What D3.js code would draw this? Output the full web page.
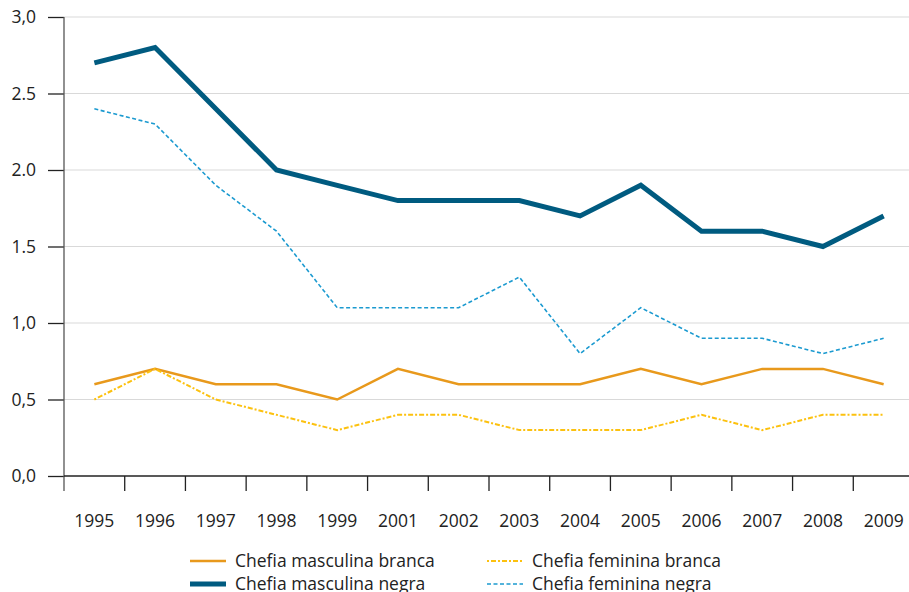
<!DOCTYPE html>
<html><head><meta charset="utf-8">
<script src="https://cdn.jsdelivr.net/npm/d3@7"></script>
<style>body{margin:0;background:#fff;} svg{display:block;font-family:"Open Sans",sans-serif;}</style>
</head><body><svg id="c" width="909" height="592"></svg>
<script>
const years = ["1995","1996","1997","1998","1999","2001","2002","2003","2004","2005","2006","2007","2008","2009"];
const mascBranca = [0.6,0.7,0.6,0.6,0.5,0.7,0.6,0.6,0.6,0.7,0.6,0.7,0.7,0.6];
const mascNegra = [2.7,2.8,2.4,2.0,1.9,1.8,1.8,1.8,1.7,1.9,1.6,1.6,1.5,1.7];
const femBranca = [0.5,0.7,0.5,0.4,0.3,0.4,0.4,0.3,0.3,0.3,0.4,0.3,0.4,0.4];
const femNegra = [2.4,2.3,1.9,1.6,1.1,1.1,1.1,1.3,0.8,1.1,0.9,0.9,0.8,0.9];
const yTicks = [0,0.5,1,1.5,2,2.5,3];
const yTickLabels = ["0,0","0,5","1,0","1.5","2.0","2.5","3,0"];

const series = [
  {name:"Chefia masculina branca", values:mascBranca, color:"#e8991c", width:2.5, dash:null},
  {name:"Chefia feminina branca", values:femBranca, color:"#fcc10f", width:2, dash:"2,2,5,2"},
  {name:"Chefia masculina negra", values:mascNegra, color:"#005b80", width:5, dash:null},
  {name:"Chefia feminina negra", values:femNegra, color:"#1b9ad0", width:1.6, dash:"4,2.5"}
];

const svg = d3.select("#c");
const mLeft = 64, mRight = 914, mTop = 17, mBottom = 476;
const x = d3.scaleBand().domain(years).range([mLeft, mRight]);
const y = d3.scaleLinear().domain([0,3]).range([mBottom, mTop]);
const fs = 17.5;

// gridlines
svg.append("g").selectAll("line").data(yTicks.filter(d=>d>0)).join("line")
  .attr("x1", mLeft).attr("x2", 909).attr("y1", d=>y(d)).attr("y2", d=>y(d))
  .attr("stroke", "#d9d9d9").attr("stroke-width", 1);

// y axis
const yAxis = svg.append("g").attr("transform", `translate(${mLeft},0)`)
  .call(d3.axisLeft(y).tickValues(yTicks).tickFormat((d,i)=>yTickLabels[i]).tickSize(16).tickPadding(12));
yAxis.select(".domain").remove();
yAxis.selectAll(".tick line").attr("stroke", "#222").attr("stroke-width", 1.3);
yAxis.selectAll("text").attr("font-size", fs).attr("fill", "#222").attr("font-family", "Open Sans, sans-serif");
svg.append("line").attr("x1", mLeft).attr("x2", mLeft).attr("y1", mTop).attr("y2", 491)
  .attr("stroke", "#555").attr("stroke-width", 1.3);

// x axis
svg.append("line").attr("x1", mLeft).attr("x2", 909).attr("y1", mBottom).attr("y2", mBottom)
  .attr("stroke", "#222").attr("stroke-width", 1.3);
svg.append("g").selectAll("line").data(years.slice(1)).join("line")
  .attr("x1", d=>x(d)).attr("x2", d=>x(d)).attr("y1", mBottom).attr("y2", 491)
  .attr("stroke", "#222").attr("stroke-width", 1.3);
svg.append("g").selectAll("text").data(years).join("text")
  .attr("x", d=>x(d)+x.bandwidth()/2).attr("y", 527).attr("text-anchor","middle")
  .attr("font-size", fs).attr("fill", "#222").text(d=>d);

// lines
const line = d3.line().x((d,i)=>x(years[i])+x.bandwidth()/2).y(d=>y(d));
svg.append("g").selectAll("path").data(series).join("path")
  .attr("d", d=>line(d.values)).attr("fill","none")
  .attr("stroke", d=>d.color).attr("stroke-width", d=>d.width)
  .attr("stroke-dasharray", d=>d.dash).attr("stroke-linejoin","miter");

// legend
const legendPos = [
  {s:series[0], x:190, y:561},
  {s:series[2], x:190, y:584},
  {s:series[1], x:487, y:561},
  {s:series[3], x:487, y:584}
];
const lg = svg.append("g").selectAll("g").data(legendPos).join("g");
lg.append("line").attr("x1", d=>d.x).attr("x2", d=>d.x+36).attr("y1", d=>d.y).attr("y2", d=>d.y)
  .attr("stroke", d=>d.s.color).attr("stroke-width", d=>d.s.width).attr("stroke-dasharray", d=>d.s.dash);
lg.append("text").attr("x", d=>d.x+45).attr("y", d=>d.y+6).attr("font-size", fs).attr("fill","#222").text(d=>d.s.name);
</script></body></html>
